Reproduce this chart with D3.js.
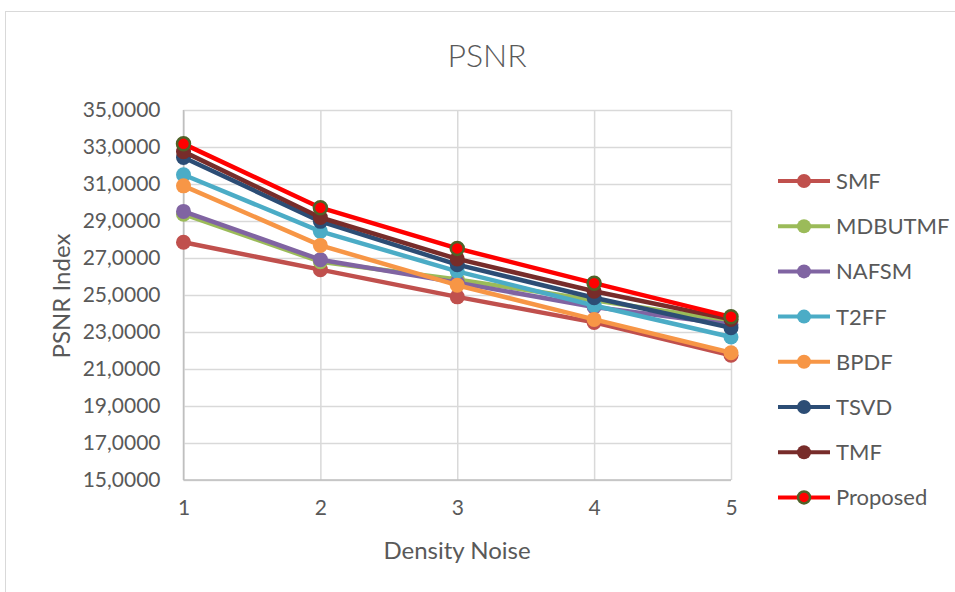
<!DOCTYPE html>
<html lang="en">
  <head>
    <meta charset="utf-8">
    <title>PSNR</title>
    <style>
      body { margin: 0; background: #fff; }
      text { font-family: Lato, "Open Sans", sans-serif; fill: #595959; }
    </style>
    <script src="https://cdn.jsdelivr.net/npm/d3@7"></script>
  </head>
  <body>
  <svg width="955" height="592"></svg>
  <script>
// data
var noise = [1, 2, 3, 4, 5];
var names = ["SMF", "MDBUTMF", "NAFSM", "T2FF", "BPDF", "TSVD", "TMF", "Proposed"];
var smf      = [27.85, 26.37, 24.90, 23.52, 21.74];
var mdbutmf  = [29.37, 26.80, 25.84, 24.72, 23.59];
var nafsm    = [29.52, 26.91, 25.67, 24.35, 23.41];
var t2ff     = [31.50, 28.44, 26.28, 24.43, 22.73];
var bpdf     = [30.90, 27.68, 25.53, 23.68, 21.88];
var tsvd     = [32.43, 28.98, 26.64, 24.85, 23.23];
var tmf      = [32.75, 29.19, 26.95, 25.20, 23.68];
var proposed = [33.17, 29.72, 27.52, 25.64, 23.82];
var yTicks = [15, 17, 19, 21, 23, 25, 27, 29, 31, 33, 35];
var yTickLabels = ["15,0000", "17,0000", "19,0000", "21,0000", "23,0000", "25,0000",
                   "27,0000", "29,0000", "31,0000", "33,0000", "35,0000"];
var colors = ["#C0504D", "#9BBB59", "#8064A2", "#4BACC6", "#F79646", "#2C4D75", "#772C2A", "#FF0000"];

var series = [smf, mdbutmf, nafsm, t2ff, bpdf, tsvd, tmf, proposed];

var svg = d3.select("svg"),
    margin = {top: 110, right: 224, bottom: 112, left: 183.5},
    width = 955 - margin.left - margin.right,
    height = 592 - margin.top - margin.bottom;

// outer frame
svg.append("rect")
    .attr("x", 5.5).attr("y", 11.5)
    .attr("width", 960).attr("height", 600)
    .attr("fill", "none").attr("stroke", "#D9D9D9");

var g = svg.append("g")
    .attr("transform", "translate(" + margin.left + "," + margin.top + ")");

var xScale = d3.scaleLinear().domain([1, 5]).range([0, width]);
var yScale = d3.scaleLinear().domain([15, 35]).range([height, 0]);

// gridlines
g.append("g")
    .call(d3.axisLeft(yScale).tickValues(yTicks).tickSize(-width).tickFormat(""))
    .call(function(a) {
      a.select(".domain").remove();
      a.selectAll("line").attr("stroke", "#D9D9D9").attr("stroke-width", 1.5);
    });
g.append("g")
    .attr("transform", "translate(0," + height + ")")
    .call(d3.axisBottom(xScale).tickValues(noise).tickSize(-height).tickFormat(""))
    .call(function(a) {
      a.select(".domain").remove();
      a.selectAll("line").attr("stroke", "#D9D9D9").attr("stroke-width", 1.5);
    });

// axis lines
g.append("line").attr("x1", 0).attr("x2", width).attr("y1", height).attr("y2", height)
    .attr("stroke", "#BFBFBF").attr("stroke-width", 1.5);
g.append("line").attr("x1", 0).attr("x2", 0).attr("y1", 0).attr("y2", height)
    .attr("stroke", "#BFBFBF").attr("stroke-width", 1.5);

// tick labels
g.append("g")
    .call(d3.axisLeft(yScale).tickValues(yTicks).tickSize(0).tickPadding(23)
      .tickFormat(function(d, i) { return yTickLabels[i]; }))
    .call(function(a) {
      a.select(".domain").remove();
      a.selectAll("text").attr("font-size", 21).style("font-family", "Lato, sans-serif").attr("fill", "#595959");
    });
g.append("g")
    .attr("transform", "translate(0," + height + ")")
    .call(d3.axisBottom(xScale).tickValues(noise).tickSize(0).tickPadding(20)
      .tickFormat(d3.format("d")))
    .call(function(a) {
      a.select(".domain").remove();
      a.selectAll("text").attr("font-size", 21).style("font-family", "Lato, sans-serif").attr("fill", "#595959");
    });

// titles
svg.append("text")
    .attr("x", 487).attr("y", 67)
    .attr("text-anchor", "middle")
    .attr("font-size", 32)
    .attr("font-weight", 300)
    .text("PSNR");
svg.append("text")
    .attr("x", 457).attr("y", 559)
    .attr("text-anchor", "middle")
    .attr("font-size", 24)
    .text("Density Noise");
svg.append("text")
    .attr("transform", "translate(70,296) rotate(-90)")
    .attr("text-anchor", "middle")
    .attr("font-size", 24)
    .text("PSNR Index");

// lines and markers
var line = d3.line()
    .x(function(d, i) { return xScale(noise[i]); })
    .y(function(d) { return yScale(d); });

series.forEach(function(s, k) {
  var sg = g.append("g");
  sg.append("path")
      .datum(s)
      .attr("d", line)
      .attr("fill", "none")
      .attr("stroke", colors[k])
      .attr("stroke-width", 4.5)
      .attr("stroke-linejoin", "round");
  sg.selectAll("circle")
      .data(s)
      .enter()
      .append("circle")
      .attr("cx", function(d, i) { return xScale(noise[i]); })
      .attr("cy", function(d) { return yScale(d); })
      .attr("r", k == 7 ? 6.5 : 7.5)
      .attr("fill", colors[k])
      .attr("stroke", k == 7 ? "#4F6228" : "none")
      .attr("stroke-width", 2.5);
});

// legend
var legend = svg.append("g");
names.forEach(function(n, k) {
  var y = 181 + k * 45.2;
  legend.append("line")
      .attr("x1", 778).attr("x2", 830).attr("y1", y).attr("y2", y)
      .attr("stroke", colors[k]).attr("stroke-width", 4);
  legend.append("circle")
      .attr("cx", 804).attr("cy", y)
      .attr("r", k == 7 ? 6 : 7)
      .attr("fill", colors[k])
      .attr("stroke", k == 7 ? "#4F6228" : "none")
      .attr("stroke-width", 2.5);
  legend.append("text")
      .attr("x", 836).attr("y", y + 8)
      .attr("font-size", 22)
      .text(n);
});
  </script>
  </body>
</html>
